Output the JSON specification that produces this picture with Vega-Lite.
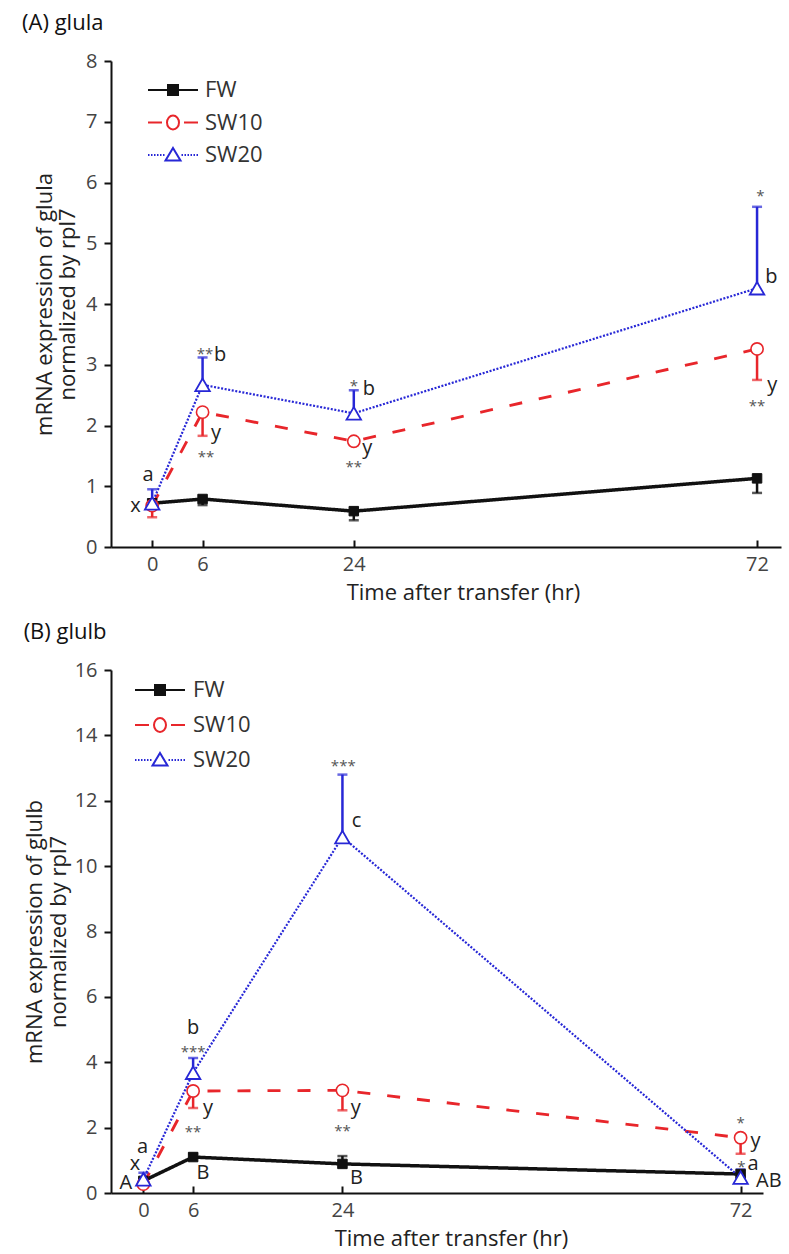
{
  "$schema": "https://vega.github.io/schema/vega-lite/v6.json",
  "padding": {"left": 22, "top": 12, "right": 5, "bottom": 0},
  "spacing": 18,
  "columns": 1,
  "align": "none",
  "resolve": {
    "scale": {"color": "independent", "strokeDash": "independent", "strokeWidth": "independent", "shape": "independent", "fill": "independent", "stroke": "independent"},
    "legend": {"shape": "independent", "fill": "independent", "stroke": "independent"}
  },
  "config": {
    "font": "Open Sans",
    "view": {"stroke": null},
    "axis": {"domainColor": "#111", "domainWidth": 2, "tickColor": "#111", "tickWidth": 2, "labelFontSize": 20, "labelColor": "#444", "titleFontSize": 22, "titleFontWeight": "normal", "titleColor": "#222", "grid": false},
    "axisX": {"tickSize": -7, "labelPadding": 14, "titlePadding": 8},
    "axisY": {"tickSize": 7, "labelPadding": 7, "titleLineHeight": 23.5},
    "title": {"fontSize": 22, "fontWeight": "normal", "color": "#111", "anchor": "start", "frame": "bounds", "offset": 16}
  },
  "datasets": {
    "A": [
      {"series": "FW", "t": 0, "v": 0.72, "err": 0.65},
      {"series": "FW", "t": 6, "v": 0.79, "err": 0.69},
      {"series": "FW", "t": 24, "v": 0.59, "err": 0.44},
      {"series": "FW", "t": 72, "v": 1.13, "err": 0.89},
      {"series": "SW10", "t": 0, "v": 0.68, "err": 0.49},
      {"series": "SW10", "t": 6, "v": 2.22, "err": 1.83},
      {"series": "SW10", "t": 24, "v": 1.74, "err": 1.68},
      {"series": "SW10", "t": 72, "v": 3.26, "err": 2.75},
      {"series": "SW20", "t": 0, "v": 0.72, "err": 0.95},
      {"series": "SW20", "t": 6, "v": 2.67, "err": 3.12},
      {"series": "SW20", "t": 24, "v": 2.2, "err": 2.58},
      {"series": "SW20", "t": 72, "v": 4.26, "err": 5.6}
    ],
    "lettersA": [
      {"t": -0.5, "v": 1.19, "label": "a"},
      {"t": -2.0, "v": 0.68, "label": "x"},
      {"t": 8.1, "v": 3.16, "label": "b"},
      {"t": 7.6, "v": 1.87, "label": "y"},
      {"t": 25.8, "v": 2.6, "label": "b"},
      {"t": 25.6, "v": 1.63, "label": "y"},
      {"t": 73.7, "v": 4.45, "label": "b"},
      {"t": 73.8, "v": 2.67, "label": "y"}
    ],
    "starsA": [
      {"t": 6.3, "v": 3.25, "label": "**"},
      {"t": 6.4, "v": 1.55, "label": "**"},
      {"t": 24, "v": 2.72, "label": "*"},
      {"t": 24, "v": 1.38, "label": "**"},
      {"t": 72.4, "v": 5.85, "label": "*"},
      {"t": 72, "v": 2.39, "label": "**"}
    ],
    "B": [
      {"series": "FW", "t": 0, "v": 0.37, "err": 0.3},
      {"series": "FW", "t": 6, "v": 1.1, "err": 1.2},
      {"series": "FW", "t": 24, "v": 0.89, "err": 1.13},
      {"series": "FW", "t": 72, "v": 0.58, "err": 0.5},
      {"series": "SW10", "t": 0, "v": 0.27, "err": 0.2},
      {"series": "SW10", "t": 6, "v": 3.12, "err": 2.6},
      {"series": "SW10", "t": 24, "v": 3.14, "err": 2.53},
      {"series": "SW10", "t": 72, "v": 1.69, "err": 1.2},
      {"series": "SW20", "t": 0, "v": 0.42, "err": 0.62},
      {"series": "SW20", "t": 6, "v": 3.68, "err": 4.13},
      {"series": "SW20", "t": 24, "v": 10.89, "err": 12.8},
      {"series": "SW20", "t": 72, "v": 0.47, "err": 0.72}
    ],
    "lettersB": [
      {"t": -0.1, "v": 1.41, "label": "a"},
      {"t": -1.0, "v": 0.89, "label": "x"},
      {"t": -2.1, "v": 0.31, "label": "A"},
      {"t": 6.0, "v": 5.05, "label": "b"},
      {"t": 7.8, "v": 2.6, "label": "y"},
      {"t": 7.2, "v": 0.61, "label": "B"},
      {"t": 25.7, "v": 11.38, "label": "c"},
      {"t": 25.6, "v": 2.6, "label": "y"},
      {"t": 25.7, "v": 0.46, "label": "B"},
      {"t": 73.8, "v": 1.59, "label": "y"},
      {"t": 73.5, "v": 0.89, "label": "a"},
      {"t": 75.4, "v": 0.37, "label": "AB"}
    ],
    "starsB": [
      {"t": 6, "v": 4.44, "label": "***"},
      {"t": 6, "v": 2.0, "label": "**"},
      {"t": 24.1, "v": 13.2, "label": "***"},
      {"t": 24, "v": 2.02, "label": "**"},
      {"t": 72, "v": 2.26, "label": "*"},
      {"t": 72.1, "v": 0.92, "label": "*"}
    ]
  },
  "concat": [
    {
      "title": {"text": "(A) glula", "dx": -11},
      "width": 670,
      "height": 486,
      "data": {"name": "A"},
      "encoding": {
        "x": {"field": "t", "type": "quantitative", "scale": {"domain": [-4.9, 74.85], "nice": false, "zero": false}, "axis": {"values": [0, 6, 24, 72], "title": "Time after transfer (hr)", "titleX": 352}},
        "y": {"field": "v", "type": "quantitative", "scale": {"domain": [0, 8], "nice": false}, "axis": {"values": [0, 1, 2, 3, 4, 5, 6, 7, 8], "title": ["mRNA expression of glula", "normalized by rpl7"], "titlePadding": 6}}
      },
      "layer": [
        {
          "mark": {"type": "line"},
          "encoding": {
            "color": {"field": "series", "type": "nominal", "scale": {"domain": ["SW20", "SW10", "FW"], "range": ["#2727d6", "#e8262b", "#111111"]}, "legend": null},
            "strokeDash": {"field": "series", "type": "nominal", "scale": {"domain": ["SW20", "SW10", "FW"], "range": [[2, 1.6], [13, 17], [1, 0]]}, "legend": null},
            "strokeWidth": {"field": "series", "type": "nominal", "scale": {"domain": ["SW20", "SW10", "FW"], "range": [2.2, 3.5, 1.8]}, "legend": null}
          }
        },
        {
          "mark": {"type": "rule", "strokeWidth": 2.5},
          "encoding": {
            "y2": {"field": "err"},
            "color": {"field": "series", "type": "nominal", "scale": {"domain": ["SW20", "SW10", "FW"], "range": ["#2727d6", "#e8262b", "#111111"]}, "legend": null}
          }
        },
        {
          "mark": {"type": "tick", "orient": "horizontal", "thickness": 2.5, "size": 10},
          "encoding": {
            "y": {"field": "err", "type": "quantitative", "axis": {"values": [0, 1, 2, 3, 4, 5, 6, 7, 8], "title": ["mRNA expression of glula", "normalized by rpl7"], "titlePadding": 6}},
            "color": {"field": "series", "type": "nominal", "scale": {"domain": ["SW20", "SW10", "FW"], "range": ["#2727d6", "#e8262b", "#111111"]}, "legend": null}
          }
        },
        {
          "transform": [{"filter": "datum.series === 'FW'"}],
          "mark": {"type": "point", "shape": "square", "filled": true, "fill": "#111111", "stroke": "#111111", "strokeWidth": 1, "size": 90, "opacity": 1}
        },
        {
          "transform": [{"filter": "datum.series === 'SW10'"}],
          "mark": {"type": "point", "shape": "circle", "filled": true, "fill": "white", "stroke": "#e8262b", "strokeWidth": 1.6, "size": 150, "opacity": 1}
        },
        {
          "transform": [{"filter": "datum.series === 'SW20'"}],
          "mark": {"type": "point", "shape": "triangle-up", "filled": true, "fill": "white", "stroke": "#2727d6", "strokeWidth": 1.8, "size": 210, "opacity": 1}
        },
        {
          "mark": {"type": "point", "opacity": 0},
          "encoding": {
            "shape": {"field": "series", "type": "nominal", "scale": {"domain": ["FW", "SW10", "SW20"], "range": ["M-2.5,0H-0.5M0.5,0H2.5M-0.5,-0.5H0.5V0.5H-0.5Z", "M-2.5,0H-1.1M1.1,0H2.5M0.6,0A0.6,0.7 0 1,1 -0.6,0A0.6,0.7 0 1,1 0.6,0Z", "M-2.5,0H-2.35M-2.2,0H-2.05M-1.9,0H-1.75M-1.6,0H-1.45M-1.3,0H-1.15M-1.0,0H-0.85M0.85,0H1.0M1.15,0H1.3M1.45,0H1.6M1.75,0H1.9M2.05,0H2.2M2.35,0H2.5M0,-0.7L0.75,0.55L-0.75,0.55Z"]}, "legend": {"title": null, "orient": "none", "legendX": 51, "legendY": 18, "symbolSize": 400, "symbolStrokeWidth": 2, "symbolOpacity": 1, "labelFontSize": 22, "labelColor": "#333", "labelOffset": 21, "rowPadding": 10.5, "padding": 0}},
            "fill": {"field": "series", "type": "nominal", "scale": {"domain": ["FW", "SW10", "SW20"], "range": ["#111111", "#ffffff", "#ffffff"]}, "legend": {"title": null, "orient": "none", "legendX": 51, "legendY": 18, "symbolSize": 400, "symbolStrokeWidth": 2, "symbolOpacity": 1, "labelFontSize": 22, "labelColor": "#333", "labelOffset": 21, "rowPadding": 10.5, "padding": 0}},
            "stroke": {"field": "series", "type": "nominal", "scale": {"domain": ["FW", "SW10", "SW20"], "range": ["#111111", "#e8262b", "#2727d6"]}, "legend": {"title": null, "orient": "none", "legendX": 51, "legendY": 18, "symbolSize": 400, "symbolStrokeWidth": 2, "symbolOpacity": 1, "labelFontSize": 22, "labelColor": "#333", "labelOffset": 21, "rowPadding": 10.5, "padding": 0}}
          }
        },
        {
          "data": {"name": "lettersA"},
          "mark": {"type": "text", "fontSize": 20, "color": "#222", "align": "center", "baseline": "middle"},
          "encoding": {"text": {"field": "label"}}
        },
        {
          "data": {"name": "starsA"},
          "mark": {"type": "text", "fontSize": 15, "color": "#555", "align": "center", "baseline": "middle", "dy": 4},
          "encoding": {"text": {"field": "label"}}
        }
      ]
    },
    {
      "title": {"text": "(B) glulb"},
      "width": 652,
      "height": 523,
      "data": {"name": "B"},
      "encoding": {
        "x": {"field": "t", "type": "quantitative", "scale": {"domain": [-3.9, 74.7], "nice": false, "zero": false}, "axis": {"values": [0, 6, 24, 72], "title": "Time after transfer (hr)", "titleX": 340}},
        "y": {"field": "v", "type": "quantitative", "scale": {"domain": [0, 16], "nice": false}, "axis": {"values": [0, 2, 4, 6, 8, 10, 12, 14, 16], "title": ["mRNA expression of glulb", "normalized by rpl7"], "titlePadding": 4}}
      },
      "layer": [
        {
          "mark": {"type": "line"},
          "encoding": {
            "color": {"field": "series", "type": "nominal", "scale": {"domain": ["SW20", "SW10", "FW"], "range": ["#2727d6", "#e8262b", "#111111"]}, "legend": null},
            "strokeDash": {"field": "series", "type": "nominal", "scale": {"domain": ["SW20", "SW10", "FW"], "range": [[2, 1.6], [13, 17], [1, 0]]}, "legend": null},
            "strokeWidth": {"field": "series", "type": "nominal", "scale": {"domain": ["SW20", "SW10", "FW"], "range": [2.2, 3.5, 1.8]}, "legend": null}
          }
        },
        {
          "mark": {"type": "rule", "strokeWidth": 2.5},
          "encoding": {
            "y2": {"field": "err"},
            "color": {"field": "series", "type": "nominal", "scale": {"domain": ["SW20", "SW10", "FW"], "range": ["#2727d6", "#e8262b", "#111111"]}, "legend": null}
          }
        },
        {
          "mark": {"type": "tick", "orient": "horizontal", "thickness": 2.5, "size": 10},
          "encoding": {
            "y": {"field": "err", "type": "quantitative", "axis": {"values": [0, 2, 4, 6, 8, 10, 12, 14, 16], "title": ["mRNA expression of glulb", "normalized by rpl7"], "titlePadding": 4}},
            "color": {"field": "series", "type": "nominal", "scale": {"domain": ["SW20", "SW10", "FW"], "range": ["#2727d6", "#e8262b", "#111111"]}, "legend": null}
          }
        },
        {
          "transform": [{"filter": "datum.series === 'FW'"}],
          "mark": {"type": "point", "shape": "square", "filled": true, "fill": "#111111", "stroke": "#111111", "strokeWidth": 1, "size": 90, "opacity": 1}
        },
        {
          "transform": [{"filter": "datum.series === 'SW10'"}],
          "mark": {"type": "point", "shape": "circle", "filled": true, "fill": "white", "stroke": "#e8262b", "strokeWidth": 1.6, "size": 150, "opacity": 1}
        },
        {
          "transform": [{"filter": "datum.series === 'SW20'"}],
          "mark": {"type": "point", "shape": "triangle-up", "filled": true, "fill": "white", "stroke": "#2727d6", "strokeWidth": 1.8, "size": 210, "opacity": 1}
        },
        {
          "mark": {"type": "point", "opacity": 0},
          "encoding": {
            "shape": {"field": "series", "type": "nominal", "scale": {"domain": ["FW", "SW10", "SW20"], "range": ["M-2.5,0H-0.5M0.5,0H2.5M-0.5,-0.5H0.5V0.5H-0.5Z", "M-2.5,0H-1.1M1.1,0H2.5M0.6,0A0.6,0.7 0 1,1 -0.6,0A0.6,0.7 0 1,1 0.6,0Z", "M-2.5,0H-2.35M-2.2,0H-2.05M-1.9,0H-1.75M-1.6,0H-1.45M-1.3,0H-1.15M-1.0,0H-0.85M0.85,0H1.0M1.15,0H1.3M1.45,0H1.6M1.75,0H1.9M2.05,0H2.2M2.35,0H2.5M0,-0.7L0.75,0.55L-0.75,0.55Z"]}, "legend": {"title": null, "orient": "none", "legendX": 38, "legendY": 9, "symbolSize": 400, "symbolStrokeWidth": 2, "symbolOpacity": 1, "labelFontSize": 22, "labelColor": "#333", "labelOffset": 22, "rowPadding": 13, "padding": 0}},
            "fill": {"field": "series", "type": "nominal", "scale": {"domain": ["FW", "SW10", "SW20"], "range": ["#111111", "#ffffff", "#ffffff"]}, "legend": {"title": null, "orient": "none", "legendX": 38, "legendY": 9, "symbolSize": 400, "symbolStrokeWidth": 2, "symbolOpacity": 1, "labelFontSize": 22, "labelColor": "#333", "labelOffset": 22, "rowPadding": 13, "padding": 0}},
            "stroke": {"field": "series", "type": "nominal", "scale": {"domain": ["FW", "SW10", "SW20"], "range": ["#111111", "#e8262b", "#2727d6"]}, "legend": {"title": null, "orient": "none", "legendX": 38, "legendY": 9, "symbolSize": 400, "symbolStrokeWidth": 2, "symbolOpacity": 1, "labelFontSize": 22, "labelColor": "#333", "labelOffset": 22, "rowPadding": 13, "padding": 0}}
          }
        },
        {
          "data": {"name": "lettersB"},
          "mark": {"type": "text", "fontSize": 20, "color": "#222", "align": "center", "baseline": "middle"},
          "encoding": {"text": {"field": "label"}}
        },
        {
          "data": {"name": "starsB"},
          "mark": {"type": "text", "fontSize": 15, "color": "#555", "align": "center", "baseline": "middle", "dy": 4},
          "encoding": {"text": {"field": "label"}}
        }
      ]
    }
  ]
}
